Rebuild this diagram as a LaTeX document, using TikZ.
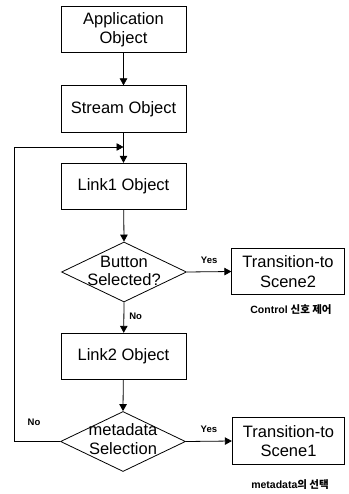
\documentclass[tikz,border=0pt]{standalone}
\usepackage{fontspec}
\setmainfont{Liberation Sans}
\newfontfamily\kr{Noto Sans CJK KR}
\usetikzlibrary{shapes.geometric,arrows.meta}
\begin{document}
\begin{tikzpicture}[x=1pt,y=1pt,
  line width=0.8pt,
  box/.style={draw,rectangle,minimum width=125pt,minimum height=46.5pt,inner sep=0pt,align=center,font=\fontsize{16.5}{19.5}\selectfont},
  tbox/.style={draw,rectangle,minimum width=112.5pt,minimum height=46.5pt,inner sep=0pt,align=center,font=\fontsize{16.5}{19.5}\selectfont},
  dia/.style={draw,diamond,minimum width=125pt,minimum height=60pt,inner sep=0pt},
  dtext/.style={align=center,inner sep=0pt,font=\fontsize{16.5}{18.5}\selectfont},
  small/.style={font=\bfseries\fontsize{9.5}{11}\selectfont,inner sep=0pt},
  captext/.style={font=\bfseries\fontsize{10.5}{12}\selectfont,inner sep=0pt},
  arr/.style={-{Triangle[length=7pt,width=7.5pt]}}]
\useasboundingbox (0,0) rectangle (348,-494);
\node[box] (app) at (123.5,-29.5) {Application\\Object};
\node[box] (stream) at (123.5,-109) {Stream Object};
\node[box] (link1) at (123.5,-186.5) {Link1 Object};
\node[dia] (btn) at (124,-272) {};
\node[dtext] (btntxt) at (124,-271) {Button\\Selected?};
\node[tbox] (t2) at (288,-271.5) {Transition-to\\Scene2};
\node[captext] (c2) at (291,-310) {Control {\kr 신호 제어}};
\node[box] (link2) at (123.5,-356.5) {Link2 Object};
\node[dia] (meta) at (123,-441.5) {};
\node[dtext] (metatxt) at (123,-439) {metadata\\Selection};
\node[tbox] (t1) at (288.5,-441) {Transition-to\\Scene1};
\node[captext] (c1) at (290,-485) {metadata{\kr 의 선택}};
\coordinate (j) at (123.5,-147);
\coordinate (lp) at (14,-441.5);
\draw[arr] (app) -- (stream);
\draw[arr] (stream) -- (link1);
\draw[arr] (link1) -- (btn.north);
\draw[arr] (btn.south) -- node[small,right=5pt,pos=0.45] (no1) {No} (link2);
\draw[arr] (link2) -- (meta.north);
\draw[arr] (btn.east) -- node[small,above=8pt,pos=0.5] (yes1) {Yes} (t2.west);
\draw[arr] (meta.east) -- node[small,above=8pt,pos=0.5] (yes2) {Yes} (t1.west);
\draw[arr] (meta.west) -- (lp) |- (j);
\node[small] (no2) at (34,-422) {No};
\end{tikzpicture}
\end{document}
